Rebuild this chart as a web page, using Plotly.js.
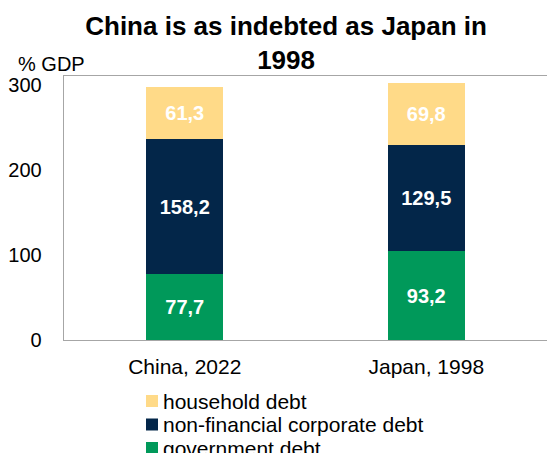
<!DOCTYPE html>
<html>
<head>
<meta charset="utf-8">
<script src="https://cdn.plot.ly/plotly-3.0.1.min.js"></script>
<style>html,body{margin:0;padding:0;background:#fff;}#chart{width:547px;height:453px;}</style>
</head>
<body>
<div id="chart"></div>
<script>
const categories = ["China, 2022", "Japan, 1998"];
const governmentDebt = [77.7, 104.6];
const corporateDebt = [158.2, 124.9];
const householdDebt = [61.3, 72.5];
const governmentLabels = ["77,7", "93,2"];
const corporateLabels = ["158,2", "129,5"];
const householdLabels = ["61,3", "69,8"];
const seriesNames = ["government debt", "non-financial corporate debt", "household debt"];
const seriesColors = ["#00995A", "#032649", "#FFDA88"];
const yTicks = [0, 100, 200, 300];

const FONT = "Liberation Sans, Arial, sans-serif";
const W = 547, H = 453, ML = 64, MR = 0, MT = 76, MB = 113;
const PW = W - ML - MR, PH = H - MT - MB;
const px = x => (x - ML) / PW;          // pixel -> paper x
const py = y => (H - MB - y) / PH;      // pixel -> paper y

function mk(i, y, text) {
  return {
    type: "bar", name: seriesNames[i], x: categories, y: y, text: text,
    textposition: "inside", insidetextanchor: "middle", constraintext: "none", textangle: 0,
    textfont: {family: FONT, size: 20, color: "#ffffff", weight: "bold"},
    marker: {color: seriesColors[i], line: {width: 0}},
    hoverinfo: "skip", showlegend: false
  };
}
const data = [
  mk(0, governmentDebt, governmentLabels),
  mk(1, corporateDebt, corporateLabels),
  mk(2, householdDebt, householdLabels)
];

// legend drawn as annotations + swatches (household first)
const legendShapes = [], legendAnns = [];
const legendRowY = [401, 424.5, 448];
[2, 1, 0].forEach((s, r) => {
  const cy = legendRowY[r];
  legendShapes.push({type: "rect", xref: "paper", yref: "paper", x0: px(146), x1: px(158), y0: py(cy + 6), y1: py(cy - 6),
                     fillcolor: seriesColors[s], line: {width: 0}});
  legendAnns.push({text: seriesNames[s], xref: "paper", yref: "paper", x: px(161), y: py(cy), xanchor: "left", yanchor: "middle",
                   showarrow: false, font: {size: 21, family: FONT, color: "#000"}});
});

const layout = {
  width: W, height: H,
  margin: {l: ML, r: MR, t: MT, b: MB, autoexpand: false},
  paper_bgcolor: "#ffffff", plot_bgcolor: "#ffffff",
  font: {family: FONT, color: "#000000", size: 20},
  barmode: "stack", bargap: 0.68,
  title: {text: "<b>China is as indebted as Japan in<br>1998</b>", font: {family: FONT, size: 26, color: "#000"},
          x: 0.523, xanchor: "center", xref: "container", y: 0.922, yanchor: "top", yref: "container", automargin: false},
  xaxis: {type: "category", range: [-0.5, 1.5], showline: true, mirror: true, linecolor: "#A6A6A6", linewidth: 1.3,
          showgrid: false, zeroline: false, ticks: "", ticklabelstandoff: 7, tickangle: 0, automargin: false,
          tickfont: {size: 21, family: FONT}},
  yaxis: {range: [0, 310.6], tickvals: yTicks, ticktext: yTicks.map(String), showline: true, linecolor: "#A6A6A6", linewidth: 1.3,
          showgrid: false, zeroline: false, ticks: "", ticklabelstandoff: 17, automargin: false, tickfont: {size: 20, family: FONT}},
  showlegend: false,
  shapes: legendShapes,
  annotations: [{text: "% GDP", xref: "paper", yref: "paper", x: px(16), y: py(64), xanchor: "left", yanchor: "middle",
                 showarrow: false, font: {size: 20, family: FONT}}].concat(legendAnns)
};
Plotly.newPlot("chart", data, layout, {displayModeBar: false, staticPlot: true});
</script>
</body>
</html>
